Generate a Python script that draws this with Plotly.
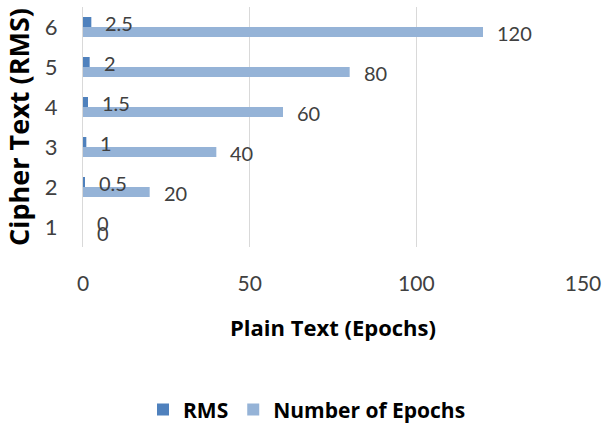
import plotly.graph_objects as go

categories = [1, 2, 3, 4, 5, 6]
rms = [0, 0.5, 1, 1.5, 2, 2.5]
epochs = [0, 20, 40, 60, 80, 120]
x_ticks = [0, 50, 100, 150]
series_names = ["RMS", "Number of Epochs"]

rms_color = "#4f81bd"
epoch_color = "#95b3d7"
label_color = "#404040"
font_family = "Lato, Arial"
title_family = "Open Sans, Arial"

fig = go.Figure()
fig.add_trace(go.Bar(
    x=rms, y=categories, orientation="h", name=f"<b>{series_names[0]}</b>",
    marker=dict(color=rms_color, line=dict(width=0)),
    width=0.25, offset=0, legendrank=1,
))
fig.add_trace(go.Bar(
    x=epochs, y=categories, orientation="h", name=f"<b>{series_names[1]}</b>",
    marker=dict(color=epoch_color, line=dict(width=0)),
    width=0.25, offset=-0.25, legendrank=2,
))

# value labels just past the end of each bar
for c, v in zip(categories, rms):
    fig.add_annotation(x=v, y=c + 0.1, text=f"{v:g}", showarrow=False,
                       xanchor="left", xshift=12,
                       font=dict(size=20, color=label_color, family=font_family))
for c, v in zip(categories, epochs):
    fig.add_annotation(x=v, y=c - 0.16, text=f"{v:g}", showarrow=False,
                       xanchor="left", xshift=12,
                       font=dict(size=20, color=label_color, family=font_family))

fig.update_layout(
    width=614, height=430,
    margin=dict(l=83, r=31, t=7, b=183, autoexpand=False),
    paper_bgcolor="white", plot_bgcolor="white",
    barmode="overlay",
    font=dict(family=font_family, color=label_color),
    showlegend=True,
    legend=dict(orientation="h", x=0.5, xref="container", xanchor="center",
                y=0.047, yref="container", yanchor="middle",
                font=dict(size=21, color="#000000", family=title_family),
                traceorder="normal", itemwidth=30),
)
fig.update_xaxes(
    range=[0, 150], tickvals=x_ticks, showgrid=True, gridcolor="#d9d9d9",
    zeroline=False, showline=False,
    tickfont=dict(size=21, color=label_color), ticklabelstandoff=22,
    title=dict(text="<b>Plain Text (Epochs)</b>", standoff=26,
               font=dict(size=22, color="#000000", family=title_family)),
)
fig.update_yaxes(
    range=[0.5, 6.5], tickvals=categories, showgrid=False, zeroline=False,
    showline=True, linecolor="#d9d9d9", linewidth=1,
    tickfont=dict(size=22, color=label_color), ticklabelstandoff=20,
    title=dict(text="<b>Cipher Text (RMS)</b>", standoff=8,
               font=dict(size=27, color="#000000", family=title_family)),
)

fig.write_html("out.html")
